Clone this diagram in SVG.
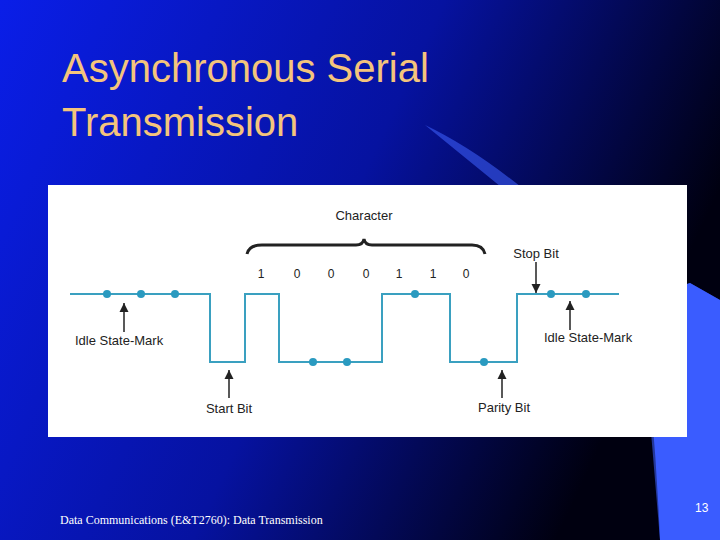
<svg xmlns="http://www.w3.org/2000/svg" width="720" height="540" viewBox="0 0 720 540">
<defs>
<linearGradient id="bg" x1="0" y1="0" x2="1" y2="0.35">
<stop offset="0" stop-color="#0a1ee8"/><stop offset="0.55" stop-color="#0612a0"/><stop offset="1" stop-color="#000010"/>
</linearGradient>
<marker id="ah" viewBox="0 0 10 10" refX="10" refY="5" markerWidth="6" markerHeight="7" orient="auto-start-reverse"><path d="M0,0 L10,5 L0,10 z" fill="#222"/></marker>
</defs>
<style>
.lbl{font-family:"Liberation Sans",Arial,sans-serif;font-size:13px;fill:#222}
.dig{font-family:"Liberation Sans",Arial,sans-serif;font-size:12px;fill:#222;text-anchor:middle}
.arr{stroke:#222;stroke-width:1.5;fill:none;marker-end:url(#ah)}
.dot{fill:#2a9ac0}
</style>
<rect width="720" height="540" fill="url(#bg)"/>
<path d="M425,125 Q520,170 640,300 L660,540 L720,540 L720,300 L690,283 L640,300 Z" fill="#3a5cf5" opacity="0.6"/>
<path d="M640,300 L690,283 L720,300 L720,540 L660,540 Q655,420 640,300 Z" fill="#3a5cff"/>
<text x="62" y="82" font-family="Liberation Sans,Arial,sans-serif" font-size="40" fill="#f4c47c">Asynchronous Serial</text>
<text x="62" y="136" font-family="Liberation Sans,Arial,sans-serif" font-size="40" fill="#f4c47c">Transmission</text>
<rect x="48" y="185" width="639" height="252" fill="#fff"/>
<g id="waveform">
<polyline points="70,294 210,294 210,362 245,362 245,294 279,294 279,362 382,362 382,294 450,294 450,362 517,362 517,294 619,294" fill="none" stroke="#3aa0c0" stroke-width="2"/>
<circle class="dot" cx="107" cy="294" r="4"/><circle class="dot" cx="141" cy="294" r="4"/><circle class="dot" cx="175" cy="294" r="4"/>
<circle class="dot" cx="313" cy="362" r="4"/><circle class="dot" cx="347" cy="362" r="4"/>
<circle class="dot" cx="415" cy="294" r="4"/><circle class="dot" cx="484" cy="362" r="4"/>
<circle class="dot" cx="551" cy="294" r="4"/><circle class="dot" cx="586" cy="294" r="4"/>
</g>
<g id="character">
<text class="lbl" x="364" y="220" text-anchor="middle">Character</text>
<path d="M247,254 Q249,245 262,245 L356,245 Q363,245 364,239 Q365,245 372,245 L472,245 Q483,245 485,254" fill="none" stroke="#222" stroke-width="3"/>
<text class="dig" x="261" y="278">1</text><text class="dig" x="297" y="278">0</text><text class="dig" x="331" y="278">0</text><text class="dig" x="366" y="278">0</text><text class="dig" x="399" y="278">1</text><text class="dig" x="433" y="278">1</text><text class="dig" x="466" y="278">0</text>
</g>
<g id="connectors">
<line class="arr" x1="124" y1="332" x2="124" y2="303"/>
<line class="arr" x1="229" y1="398" x2="229" y2="370"/>
<line class="arr" x1="502" y1="398" x2="502" y2="370"/>
<line class="arr" x1="536" y1="262" x2="536" y2="293"/>
<line class="arr" x1="570" y1="330" x2="570" y2="301"/>
</g>
<g id="labels">
<text class="lbl" x="75" y="345">Idle State-Mark</text>
<text class="lbl" x="229" y="413" text-anchor="middle">Start Bit</text>
<text class="lbl" x="504" y="412" text-anchor="middle">Parity Bit</text>
<text class="lbl" x="536" y="258" text-anchor="middle">Stop Bit</text>
<text class="lbl" x="544" y="342">Idle State-Mark</text>
</g>
<text x="60" y="524" font-family="Liberation Serif,Times New Roman,serif" font-size="12" fill="#fff">Data Communications (E&amp;T2760): Data Transmission</text>
<text x="695" y="512" font-family="Liberation Sans,Arial,sans-serif" font-size="12" fill="#fff">13</text>
</svg>
